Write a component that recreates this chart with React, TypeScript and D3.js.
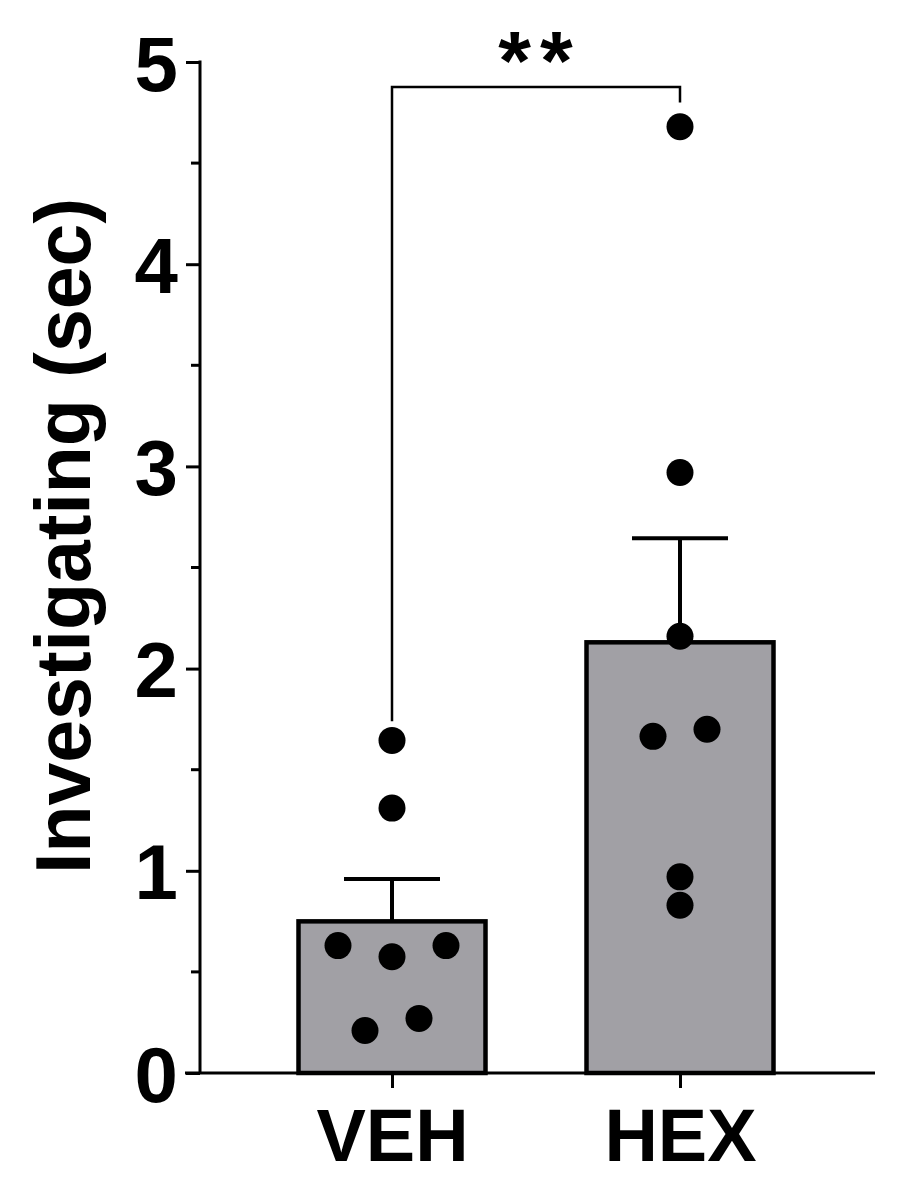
import React, { useEffect, useRef } from 'react';
import * as d3 from 'd3';

const groups = ['VEH', 'HEX'];
const means = [0.75, 2.13];
const sems = [0.21, 0.515];
// individual animals, with their swarm column (-2..2)
const vehValues = [1.645, 1.31, 0.63, 0.575, 0.63, 0.21, 0.27];
const vehCols = [0, 0, -2, 0, 2, -1, 1];
const hexValues = [4.68, 2.97, 2.16, 1.665, 1.7, 0.97, 0.83];
const hexCols = [0, 0, 0, -1, 1, 0, 0];
const yTicks = [0, 1, 2, 3, 4, 5];
const yMinorTicks = [0.5, 1.5, 2.5, 3.5, 4.5];
const yLabel = 'Investigating (sec)';
const sigLabel = '**';
const sigLevel = 4.876;
const sigLegEnds = [1.74, 4.8];

const FONT = "'Liberation Sans', Arial, Helvetica, sans-serif";

const App = () => {
  const ref = useRef(null);

  useEffect(() => {
    const svg = d3.select(ref.current);
    svg.selectAll('*').remove();

    const left = 200;
    const right = 875;
    const top = 62;
    const bottom = 1073;

    const y = d3.scaleLinear().domain([0, 5]).range([bottom, top]);
    const x = d3.scalePoint().domain(groups).range([392, 680]);
    const barW = 187;
    const colStep = 27;
    const r = 13.5;

    const bars = groups.map((g, i) => ({ g, mean: means[i], sem: sems[i] }));

    // bars
    svg.selectAll('.bar')
      .data(bars)
      .enter()
      .append('rect')
      .attr('x', d => x(d.g) - barW / 2)
      .attr('y', d => y(d.mean))
      .attr('width', barW)
      .attr('height', d => y(0) - y(d.mean))
      .attr('fill', '#a1a0a5')
      .attr('stroke', '#000')
      .attr('stroke-width', 4.5);

    // error bars (upper only)
    const err = svg.append('g').attr('stroke', '#000').attr('stroke-width', 4);
    bars.forEach(d => {
      const cx = x(d.g);
      err.append('line')
        .attr('x1', cx).attr('x2', cx)
        .attr('y1', y(d.mean)).attr('y2', y(d.mean + d.sem));
      err.append('line')
        .attr('x1', cx - 48).attr('x2', cx + 48)
        .attr('y1', y(d.mean + d.sem)).attr('y2', y(d.mean + d.sem));
    });

    // axes
    const yAxis = svg.append('g')
      .attr('transform', `translate(${left},0)`)
      .call(d3.axisLeft(y).tickValues(yTicks).tickSize(14).tickPadding(8).tickFormat(d3.format('d')));
    yAxis.select('.domain').remove();
    yAxis.selectAll('line').attr('stroke-width', 3);
    yAxis.selectAll('text')
      .attr('font-family', FONT)
      .attr('font-weight', 'bold')
      .attr('font-size', 78)
      .attr('fill', '#000')
      .attr('dy', '0.36em');

    svg.append('g')
      .attr('transform', `translate(${left},0)`)
      .selectAll('line')
      .data(yMinorTicks)
      .enter()
      .append('line')
      .attr('x1', -9).attr('x2', 0)
      .attr('y1', d => y(d)).attr('y2', d => y(d))
      .attr('stroke', '#000')
      .attr('stroke-width', 3);

    svg.append('line')
      .attr('x1', left).attr('x2', left)
      .attr('y1', top - 1.5).attr('y2', bottom)
      .attr('stroke', '#000').attr('stroke-width', 3);

    svg.append('line')
      .attr('x1', left - 15).attr('x2', right)
      .attr('y1', bottom).attr('y2', bottom)
      .attr('stroke', '#000').attr('stroke-width', 3);

    const xAxis = svg.append('g')
      .attr('transform', `translate(0,${bottom})`)
      .call(d3.axisBottom(x).tickSize(15).tickPadding(20));
    xAxis.select('.domain').remove();
    xAxis.selectAll('line').attr('stroke-width', 3);
    xAxis.selectAll('text')
      .attr('font-family', FONT)
      .attr('font-weight', 'bold')
      .attr('font-size', 74)
      .attr('fill', '#000');

    // y label
    svg.append('text')
      .attr('transform', `translate(90,${(197 + 875) / 2}) rotate(-90)`)
      .attr('text-anchor', 'middle')
      .attr('font-family', FONT)
      .attr('font-weight', 'bold')
      .attr('font-size', 77)
      .text(yLabel);

    // significance bracket
    const xa = x(groups[0]);
    const xb = x(groups[1]);
    svg.append('path')
      .attr('d', d3.line()([
        [xa, y(sigLegEnds[0])],
        [xa, y(sigLevel)],
        [xb, y(sigLevel)],
        [xb, y(sigLegEnds[1])],
      ]))
      .attr('fill', 'none')
      .attr('stroke', '#000')
      .attr('stroke-width', 2.5);

    svg.append('text')
      .attr('x', (xa + xb) / 2 + 4)
      .attr('y', 90)
      .attr('text-anchor', 'middle')
      .attr('font-family', FONT)
      .attr('font-weight', 'bold')
      .attr('font-size', 84)
      .attr('letter-spacing', 9)
      .text(sigLabel);

    // points
    const pts = [
      ...vehValues.map((v, i) => ({ g: 'VEH', v, c: vehCols[i] })),
      ...hexValues.map((v, i) => ({ g: 'HEX', v, c: hexCols[i] })),
    ];
    svg.selectAll('.dot')
      .data(pts)
      .enter()
      .append('circle')
      .attr('cx', d => x(d.g) + d.c * colStep)
      .attr('cy', d => y(d.v))
      .attr('r', r)
      .attr('fill', '#000');
  }, []);

  return (
    <svg
      ref={ref}
      width={905}
      height={1188}
      style={{ position: 'absolute', left: 0, top: 0, background: '#fff' }}
    ></svg>
  );
};

export default App;
